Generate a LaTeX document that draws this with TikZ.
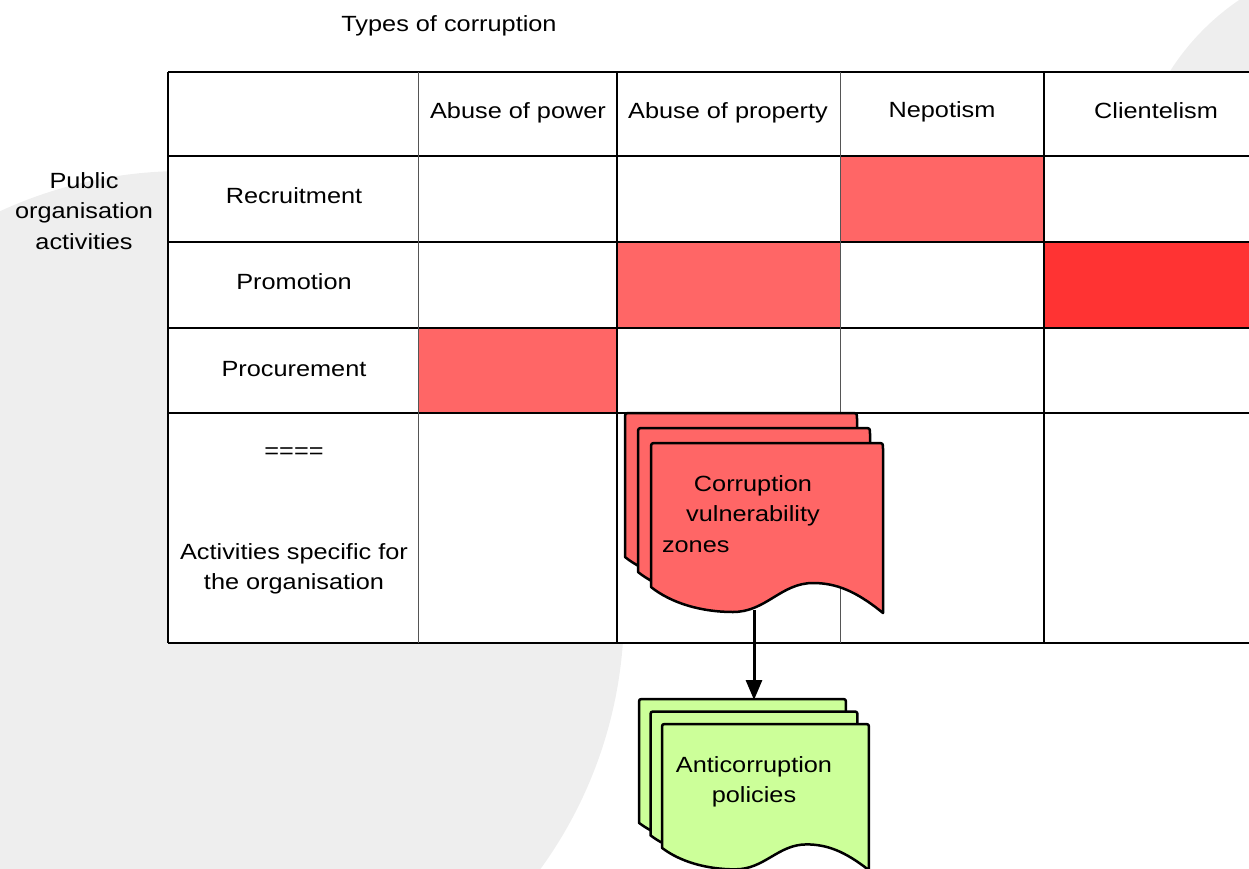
\documentclass[tikz,border=0pt]{standalone}
\usepackage{fontspec}
\setmainfont{Liberation Sans}[FakeStretch=1.15]
\usetikzlibrary{arrows.meta}
\definecolor{bggrey}{HTML}{EEEEEE}
\definecolor{lred}{HTML}{FF6666}
\definecolor{dred}{HTML}{FF3333}
\definecolor{lgreen}{HTML}{CCFF99}
\definecolor{gridgrey}{HTML}{555555}
\newcommand{\docsheet}[5]{%
  \begin{scope}[shift={(#1,#2)},xscale=#3,yscale=#4]
    \filldraw[sheet, fill=#5] (0,144) -- (0,6) .. controls (0,0) .. (6,0) -- (226,0)
      .. controls (232,0) .. (232,6) -- (232,170)
      .. controls (205,148) and (185,140) .. (162,140)
      .. controls (130,140) and (115,169) .. (82,169)
      .. controls (50,169) and (20,160) .. (0,144) -- cycle;
  \end{scope}}
\begin{document}
\begin{tikzpicture}[x=1pt,y=-1pt,
  sheet/.style={line width=2.5pt, line join=round},
  lbl/.style={font=\fontsize{22}{30.5}\selectfont, align=center, inner sep=0pt, text=black},
  hline/.style={line width=1.5pt},
  vthin/.style={gridgrey, line width=1pt},
  vthick/.style={black, line width=2pt}]
\useasboundingbox (0,0) rectangle (1249,869);
\begin{scope}
\clip (0,0) rectangle (1249,869);
% background discs
\fill[bggrey] (184,611) circle[radius=440pt];
\fill[bggrey] (1376,202) circle[radius=244pt];
% table body
\fill[white] (168,72) rectangle (1249,643);
\fill[lred] (840,156) rectangle (1044,242);
\fill[lred] (617,242) rectangle (840,328);
\fill[dred] (1044,242) rectangle (1249,328);
\fill[lred] (418,328) rectangle (617,413);
\foreach \yy in {72,156,242,328,413} \draw[hline] (168,\yy) -- (1249,\yy);
\draw[line width=2.5pt] (168,643) -- (1249,643);
\draw[hline] (168,72) -- (168,643);
\draw[vthin] (418,72) -- (418,643);
\draw[vthin] (840,72) -- (840,643);
\draw[vthick] (617,72) -- (617,643);
\draw[vthick] (1044,72) -- (1044,643);
% corruption vulnerability zones stack
\docsheet{625}{413}{1}{1}{lred}
\docsheet{638}{428}{1}{1}{lred}
\docsheet{651}{443}{1}{1}{lred}
% connector
\coordinate (cvzout) at (754,610);
\coordinate (acin) at (754,700);
\draw[line width=3pt, -{Triangle[length=20pt,width=16pt]}] (cvzout) -- (acin);
% anticorruption policies stack
\docsheet{639}{699}{0.892}{0.86}{lgreen}
\docsheet{650.5}{711.5}{0.892}{0.86}{lgreen}
\docsheet{662}{724}{0.892}{0.86}{lgreen}
\end{scope}
% texts
\node[lbl] (title) at (449,26) {Types of corruption};
\node[lbl] (poa) at (84,211) {Public\\organisation\\activities};
\node[lbl] (h1) at (518,113) {Abuse of power};
\node[lbl] (h2) at (728,113) {Abuse of property};
\node[lbl] (h3) at (942,112) {Nepotism};
\node[lbl] (h4) at (1156,111) {Clientelism};
\node[lbl] (r1) at (294,196) {Recruitment};
\node[lbl] (r2) at (294,282) {Promotion};
\node[lbl] (r3) at (294,369) {Procurement};
\node[lbl] (eq) at (294,453) {====};
\node[lbl] (r4) at (294,569) {Activities specific for\\the organisation};
\node[lbl] (cvz) at (753,514) {Corruption\\vulnerability\\\makebox[182pt][l]{zones}};
\node[lbl] (acp) at (754,782) {Anticorruption\\policies};
\end{tikzpicture}
\end{document}
